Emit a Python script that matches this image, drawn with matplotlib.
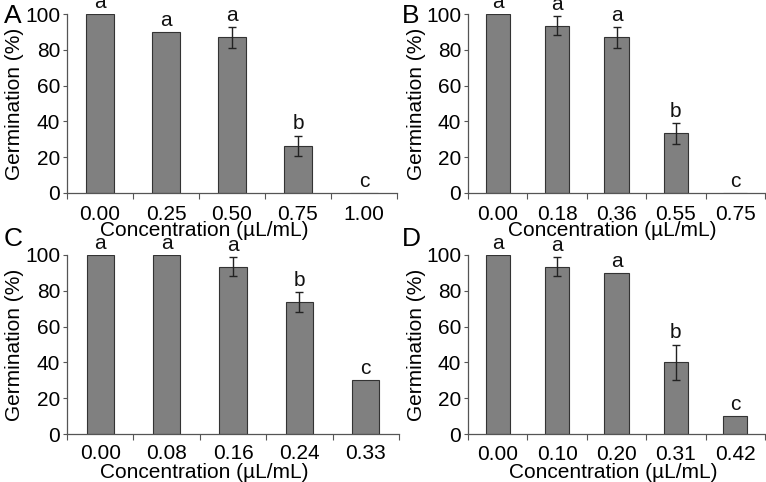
import matplotlib
matplotlib.use("Agg")
import matplotlib.pyplot as plt
import numpy as np

plt.rcParams['font.family'] = ['Liberation Sans', 'DejaVu Sans']

# ---- data ----
panel_names = ["A", "B", "C", "D"]
conc_A = ["0.00", "0.25", "0.50", "0.75", "1.00"]
conc_B = ["0.00", "0.18", "0.36", "0.55", "0.75"]
conc_C = ["0.00", "0.08", "0.16", "0.24", "0.33"]
conc_D = ["0.00", "0.10", "0.20", "0.31", "0.42"]

germ_A = [100, 90, 87, 26.5, 0]
germ_B = [100, 93.5, 87, 33.3, 0]
germ_C = [100, 100, 93.5, 73.5, 30]
germ_D = [100, 93.5, 90, 40, 10]

err_A = [0, 0, 5.8, 5.6, 0]
err_B = [0, 5.5, 5.8, 5.8, 0]
err_C = [0, 0, 5.5, 5.6, 0]
err_D = [0, 5.5, 0, 10, 0]

sig_A = ["a", "a", "a", "b", "c"]
sig_B = ["a", "a", "a", "b", "c"]
sig_C = ["a", "a", "a", "b", "c"]
sig_D = ["a", "a", "a", "b", "c"]

y_ticks = [0, 20, 40, 60, 80, 100]

panels = [
    (conc_A, germ_A, err_A, sig_A),
    (conc_B, germ_B, err_B, sig_B),
    (conc_C, germ_C, err_C, sig_C),
    (conc_D, germ_D, err_D, sig_D),
]

W, H = 766, 482
fig = plt.figure(figsize=(W / 100, H / 100), dpi=100)

# pixel boxes: left, right, top, bottom
boxes = [(67, 397, 14, 193), (468, 765, 14, 193), (67, 399, 255, 434), (468, 765, 255, 434)]
xlabel_center_px = [204, 612, 204, 613]
xlabel_y_off = [38, 38, 39, 39]
tick_pad = [8.5, 8.5, 7.5, 8]
panel_pos = [(4, 23), (402, 23), (4, 246), (402, 246)]
ylab_x = [15, 416, 15, 416]

axis_col = "#555555"
bar_col = "#808080"
FS = 15

for i, (cats, vals, errs, sigs) in enumerate(panels):
    l, r, t, b = boxes[i]
    ax = fig.add_axes([l / W, 1 - b / H, (r - l) / W, (b - t) / H])
    x = np.arange(len(cats))
    ax.bar(x, vals, width=0.41, color=bar_col, edgecolor="#333333", linewidth=0.8, zorder=2)
    for xi, v, e in zip(x, vals, errs):
        if e > 0:
            ax.errorbar(xi, v, yerr=e, fmt="none", ecolor="#222222", elinewidth=1.0,
                        capsize=2.6, capthick=1.0, zorder=3)
    for xi, v, e, s in zip(x, vals, errs, sigs):
        ax.text(xi, v + e + 3.5, s, ha="center", va="baseline", fontsize=FS,
                color="#111111", clip_on=False)
    ax.set_xlim(-0.5, len(cats) - 0.5)
    ax.set_ylim(0, 100)
    ax.set_yticks(y_ticks)
    ax.set_yticklabels([str(v) for v in y_ticks], fontsize=FS)
    ax.set_xticks(np.arange(-0.5, len(cats), 1.0))
    ax.set_xticklabels([])
    ax.set_xticks(x, minor=True)
    ax.set_xticklabels(cats, minor=True, fontsize=FS)
    ax.tick_params(axis="x", which="major", direction="out", length=4, color=axis_col, width=0.8)
    ax.tick_params(axis="x", which="minor", length=0, pad=tick_pad[i])
    ax.tick_params(axis="y", direction="out", length=3, color=axis_col, width=0.8, pad=2)
    for sp in ["top", "right"]:
        ax.spines[sp].set_visible(False)
    for sp in ["left", "bottom"]:
        ax.spines[sp].set_color(axis_col)
        ax.spines[sp].set_linewidth(0.9)
    ax.set_xlabel("Concentration (µL/mL)", fontsize=FS)
    ax.xaxis.set_label_coords((xlabel_center_px[i] - l) / (r - l), -xlabel_y_off[i] / (b - t))
    ax.xaxis.label.set_va("center")
    ax.set_ylabel("Germination (%)", fontsize=FS)
    ax.yaxis.set_label_coords(-(l - ylab_x[i]) / (r - l), 0.5)
    ax.yaxis.label.set_va("center")
    px, py = panel_pos[i]
    fig.text(px / W, 1 - py / H, panel_names[i], fontsize=19, ha="left", va="baseline")

fig.savefig("out.png", dpi=100)
